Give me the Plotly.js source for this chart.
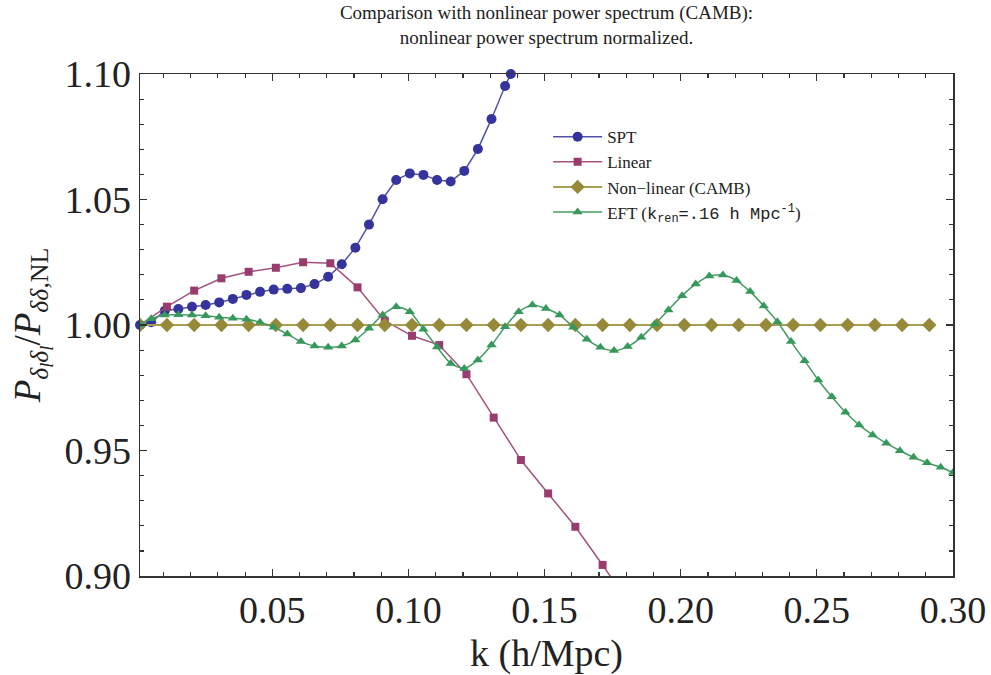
<!DOCTYPE html>
<html>
<head>
<meta charset="utf-8">
<script src="https://cdn.plot.ly/plotly-3.0.1.min.js"></script>
<style>
  html, body { margin: 0; padding: 0; background: #fff; }
  #chart { width: 991px; height: 675px; }
</style>
</head>
<body>
<div id="chart"></div>
<script>
// Ratio of each model's power spectrum to the CAMB nonlinear spectrum, versus k (h/Mpc)

const kSPT = [0.0014, 0.0055, 0.0105, 0.0155, 0.0205, 0.0255, 0.0305, 0.0355, 0.0405, 0.0455,
              0.0505, 0.0555, 0.0605, 0.0655, 0.0705, 0.0755, 0.0805, 0.0855, 0.0905, 0.0955,
              0.1005, 0.1055, 0.1105, 0.1155, 0.1205, 0.1255, 0.1305, 0.1355, 0.1376];
const ratioSPT = [1.0000, 1.0011, 1.0057, 1.0064, 1.0073, 1.0080, 1.0090, 1.0104, 1.0120, 1.0132,
                  1.0141, 1.0144, 1.0147, 1.0163, 1.0192, 1.0242, 1.0308, 1.0400, 1.0501, 1.0578,
                  1.0604, 1.0598, 1.0578, 1.0572, 1.0614, 1.0701, 1.0821, 1.0952, 1.1000];

const kLinear = [0.0014, 0.0113, 0.0213, 0.0313, 0.0413, 0.0513, 0.0613, 0.0713, 0.0813, 0.0913,
                 0.1013, 0.1113, 0.1213, 0.1313, 0.1413, 0.1513, 0.1613, 0.1713, 0.1813];
const ratioLinear = [1.0000, 1.0073, 1.0137, 1.0186, 1.0212, 1.0228, 1.0250, 1.0246, 1.0150, 1.0017,
                     0.9957, 0.9920, 0.9804, 0.9631, 0.9462, 0.9329, 0.9196, 0.9044, 0.8885];

const kCAMB = [0.0014, 0.0113, 0.0213, 0.0313, 0.0413, 0.0513, 0.0613, 0.0713, 0.0813, 0.0913,
               0.1013, 0.1113, 0.1213, 0.1313, 0.1413, 0.1513, 0.1613, 0.1713, 0.1813, 0.1913,
               0.2013, 0.2113, 0.2213, 0.2313, 0.2413, 0.2513, 0.2613, 0.2713, 0.2813, 0.2913];
const ratioCAMB = [1, 1, 1, 1, 1, 1, 1, 1, 1, 1,
                   1, 1, 1, 1, 1, 1, 1, 1, 1, 1,
                   1, 1, 1, 1, 1, 1, 1, 1, 1, 1];

const kEFT = [0.0014, 0.0055, 0.0105, 0.0155, 0.0205, 0.0255, 0.0305, 0.0355, 0.0405, 0.0455,
              0.0505, 0.0555, 0.0605, 0.0655, 0.0705, 0.0755, 0.0805, 0.0855, 0.0905, 0.0955,
              0.1005, 0.1055, 0.1105, 0.1155, 0.1205, 0.1255, 0.1305, 0.1355, 0.1405, 0.1455,
              0.1505, 0.1555, 0.1605, 0.1655, 0.1705, 0.1755, 0.1805, 0.1855, 0.1905, 0.1955,
              0.2005, 0.2055, 0.2105, 0.2155, 0.2205, 0.2255, 0.2305, 0.2355, 0.2405, 0.2455,
              0.2505, 0.2555, 0.2605, 0.2655, 0.2705, 0.2755, 0.2805, 0.2855, 0.2905, 0.2955,
              0.3000];
const ratioEFT = [1.0000, 1.0025, 1.0040, 1.0041, 1.0040, 1.0037, 1.0031, 1.0027, 1.0023, 1.0011,
                  0.9991, 0.9964, 0.9934, 0.9916, 0.9911, 0.9916, 0.9940, 0.9987, 1.0040, 1.0073,
                  1.0053, 0.9983, 0.9912, 0.9847, 0.9827, 0.9861, 0.9920, 0.9993, 1.0053, 1.0080,
                  1.0066, 1.0040, 0.9991, 0.9943, 0.9911, 0.9898, 0.9914, 0.9951, 1.0004, 1.0060,
                  1.0117, 1.0163, 1.0195, 1.0199, 1.0177, 1.0133, 1.0076, 1.0013, 0.9934, 0.9858,
                  0.9781, 0.9714, 0.9652, 0.9602, 0.9562, 0.9529, 0.9499, 0.9473, 0.9451, 0.9433,
                  0.9412];

const xTicks = [0.05, 0.10, 0.15, 0.20, 0.25, 0.30];
const xTickText = ['0.05', '0.10', '0.15', '0.20', '0.25', '0.30'];
const yTicks = [0.90, 0.95, 1.00, 1.05, 1.10];
const yTickText = ['0.90', '0.95', '1.00', '1.05', '1.10'];

const serif = 'Liberation Serif, Times New Roman, serif';
const mono = 'Liberation Mono, Courier New, monospace';

const traces = [
  {
    name: 'SPT', x: kSPT, y: ratioSPT, type: 'scatter', mode: 'lines+markers', cliponaxis: false,
    line: { color: '#5252ad', width: 1.5 },
    marker: { symbol: 'circle', size: 10, color: '#34349c' }
  },
  {
    name: 'Linear', x: kLinear, y: ratioLinear, type: 'scatter', mode: 'lines+markers',
    line: { color: '#a5517f', width: 1.5 },
    marker: { symbol: 'square', size: 8, color: '#993d6f' }
  },
  {
    name: 'Non\u2212linear (CAMB)', x: kCAMB, y: ratioCAMB, type: 'scatter', mode: 'lines+markers',
    line: { color: '#a89d55', width: 2 },
    marker: { symbol: 'diamond', size: 11, color: '#968a3a' }
  },
  {
    name: 'EFT (<span style="font-family:' + mono + '">k<sub>ren</sub>=.16 h Mpc<sup>-1</sup></span>)',
    x: kEFT, y: ratioEFT, type: 'scatter', mode: 'lines+markers',
    line: { color: '#459c62', width: 1.5, shape: 'spline', smoothing: 0.7 },
    marker: { symbol: 'triangle-up', size: 9, color: '#36985a' }
  }
];

const axisCommon = {
  showgrid: false, zeroline: false,
  showline: true, linecolor: '#333', linewidth: 1.5, mirror: 'allticks',
  ticks: 'inside', ticklen: 7, tickwidth: 1.2, tickcolor: '#333',
  tickfont: { family: serif, size: 38, color: '#222' }
};

const layout = {
  width: 991, height: 675,
  margin: { l: 140, r: 38, t: 74, b: 99 },
  paper_bgcolor: '#fff', plot_bgcolor: '#fff',
  showlegend: true,
  title: {
    text: 'Comparison with nonlinear power spectrum (CAMB):<br>nonlinear power spectrum normalized.',
    font: { family: serif, size: 19, color: '#222' },
    x: 0.5, xref: 'paper', y: 0.972, yref: 'container', yanchor: 'top'
  },
  xaxis: Object.assign({}, axisCommon, {
    range: [0.0014, 0.3],
    tickmode: 'array', tickvals: xTicks, ticktext: xTickText,
    minor: { dtick: 0.01, tick0: 0, ticks: 'inside', ticklen: 4, tickcolor: '#333', showgrid: false },
    title: { text: 'k (h/Mpc)', font: { family: serif, size: 38, color: '#222' }, standoff: 10 }
  }),
  yaxis: Object.assign({}, axisCommon, {
    range: [0.9, 1.1],
    tickmode: 'array', tickvals: yTicks, ticktext: yTickText,
    minor: { dtick: 0.01, tick0: 0.9, ticks: 'inside', ticklen: 4, tickcolor: '#333', showgrid: false },
    title: {
      text: '<i>P</i><sub><i>\u03B4<sub>l</sub>\u03B4<sub>l</sub></i></sub>/<i>P</i><sub><i>\u03B4\u03B4</i>,NL</sub>',
      font: { family: serif, size: 37, color: '#222' }, standoff: 12
    }
  }),
  legend: {
    x: 0.502, xanchor: 'left', y: 0.91, yanchor: 'top',
    bgcolor: 'rgba(0,0,0,0)', borderwidth: 0,
    font: { family: serif, size: 17, color: '#222' },
    tracegroupgap: 0, itemsizing: 'trace', itemwidth: 49
  }
};

Plotly.newPlot('chart', traces, layout, { displayModeBar: false, staticPlot: true });
</script>
</body>
</html>
